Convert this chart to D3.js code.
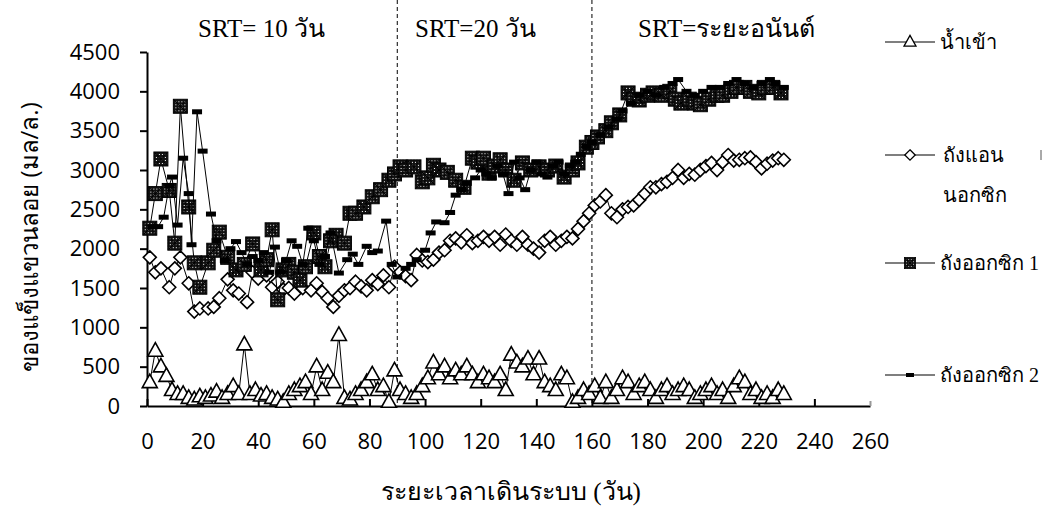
<!DOCTYPE html>
<html>
<head>
<meta charset="utf-8">
<script src="https://cdn.jsdelivr.net/npm/d3@7"></script>
<style>
  body { margin: 0; background: #fff; }
  svg { display: block; }
</style>
</head>
<body>
<div id="chart"></div>
<script>
// --- data (days, mg/L) ---
const inflowDays = d3.range(1, 230, 2);
const inflowVals = [300,700,500,380,200,150,150,100,80,120,100,130,180,100,150,250,150,780,150,200,
  130,150,100,80,50,150,200,250,300,150,500,200,420,300,900,100,80,150,200,300,
  400,200,250,50,450,200,150,100,150,250,350,550,400,500,350,450,400,500,400,300,
  400,350,300,400,200,650,550,500,600,400,600,300,250,200,400,350,50,100,200,150,
  250,100,300,100,200,350,300,150,250,300,200,100,200,250,150,200,250,200,100,150,
  200,250,150,200,100,250,350,300,150,200,100,150,100,200,150];

const anoxicDays = [1,3,5,8,10,12,15,17,19,22,24,26,29,31,33,36,38,40,43,45,47,49,51,53,56,59,
  61,63,65,67,69,71,73,75,77,79,81,83,85,87,89,91,93,95,97,99,101,103,105,107,109,111,113,115,117,119,
  121,123,125,127,129,131,133,135,137,139,141,143,145,147,149,151,153,155,157,159,161,163,165,167,169,171,
  173,175,177,179,181,183,185,187,189,191,193,195,197,199,201,203,205,207,209,211,213,215,217,219,221,223,
  225,227,229];
const anoxicVals = [1890,1700,1750,1510,1750,1890,1560,1200,1240,1240,1260,1370,1610,1470,1430,1320,1700,1620,1660,1510,
  1580,1480,1500,1430,1500,1470,1560,1450,1370,1260,1400,1470,1500,1580,1520,1470,1600,1550,1660,1510,
  1770,1700,1650,1600,1920,1850,1830,1860,1950,1980,2100,2130,2080,2170,2070,2100,2150,2100,2150,2050,
  2180,2100,2050,2150,2050,2000,1950,2100,2150,2050,2100,2150,2130,2250,2350,2450,2550,2600,2680,2450,
  2400,2500,2530,2550,2620,2700,2780,2780,2820,2850,2900,3000,2900,2950,2940,3000,3050,3090,3000,3100,
  3190,3120,3130,3150,3160,3100,3020,3080,3120,3150,3130];

const oxic1Days = [1,3,5,8,10,12,15,17,19,22,24,26,29,32,35,38,41,43,45,47,49,51,53,55,57,60,62,64,66,68,
  71,73,75,78,81,84,87,89,91,93,96,99,101,103,105,108,111,114,117,119,121,123,125,127,129,132,135,138,141,144,
  147,150,153,155,158,160,162,165,167,170,173,175,177,180,182,185,188,190,192,195,197,199,202,205,207,210,212,215,217,220,
  222,225,228];
const oxic1Vals = [2260,2700,3140,2740,2070,3810,2530,1820,1510,1820,1980,2210,1890,1730,1800,2060,1730,1860,2240,1350,
  1730,1800,1700,1600,1770,2200,1900,1770,2100,2170,2070,2450,2450,2530,2660,2750,2870,2950,3040,3000,
  3040,2850,2900,3060,3000,2970,2870,2780,3150,3100,3150,2960,3050,3130,3000,2870,3090,3000,3040,3000,
  3050,2910,3000,3090,3290,3350,3420,3500,3600,3700,3980,3900,3890,3950,3980,3950,4000,3900,3850,3900,
  3850,3830,3900,3950,3950,4000,4050,4050,4000,3980,4050,4050,3980];

const oxic2Days = [2,4,6,8,9,11,13,15,16,18,20,23,25,28,30,32,34,36,38,40,42,44,46,48,50,52,54,56,58,60,
  62,64,66,69,72,74,76,79,81,83,86,88,90,93,95,97,100,102,104,107,109,111,113,115,118,120,122,124,126,128,
  130,132,134,136,138,140,142,144,146,148,150,152,154,156,158,160,163,166,169,171,174,177,180,183,186,189,191,194,197,200,
  203,206,209,212,215,218,221,224,226,229];
const oxic2Vals = [2280,2280,2400,2800,2910,2300,3150,2700,2050,3740,3240,2440,2100,1850,2000,2090,1950,1800,1900,1850,
  1950,1700,2020,1700,1850,2100,2030,1800,2260,2100,1800,1900,2200,1690,1860,1930,1800,2030,1950,1970,
  2350,1800,1640,1750,1800,1860,1980,2200,2340,2330,2460,2680,2750,2830,2900,3000,2950,2900,3050,2950,
  2700,3100,2900,2750,3000,3100,2950,2910,3050,3100,2950,3050,3100,3200,3300,3350,3450,3550,3650,3750,
  3850,3950,4000,3950,4050,4100,4150,4000,3950,4000,4050,4050,4100,4150,4100,4050,4100,4150,4100,4050];

const seriesNames = ["น้ำเข้า", "ถังแอนนอกซิก", "ถังออกซิก 1", "ถังออกซิก 2"];
const xTicks = d3.range(0, 261, 20);
const yTicks = d3.range(0, 4501, 500);
const phaseBreaks = [90, 160];
const phaseLabels = ["SRT= 10 วัน", "SRT=20 วัน", "SRT=ระยะอนันต์"];
const phaseLabelX = [198, 415, 638];

const width = 1045, height = 513;
const svg = d3.select("#chart").append("svg")
  .attr("width", width).attr("height", height);

const defs = svg.append("defs");
const pat = defs.append("pattern").attr("id", "hatch")
  .attr("patternUnits", "userSpaceOnUse").attr("width", 3).attr("height", 3);
pat.append("rect").attr("width", 3).attr("height", 3).attr("fill", "#111");
pat.append("rect").attr("x", 1).attr("y", 1).attr("width", 1).attr("height", 1).attr("fill", "#fff");

const x = d3.scaleLinear().domain([0, 260]).range([147, 870]);
const y = d3.scaleLinear().domain([0, 4500]).range([406, 52]);

const tickFont = "'Open Sans', 'Noto Sans', sans-serif";
const serif = "'Liberation Serif', 'Times New Roman', serif";

// phase separators
svg.selectAll(".phase")
  .data(phaseBreaks)
  .enter().append("line")
  .attr("x1", d => x(d)).attr("x2", d => x(d))
  .attr("y1", 0).attr("y2", y(0))
  .attr("stroke", "#000").attr("stroke-width", 1)
  .attr("stroke-dasharray", "4,3");

svg.selectAll(".phase-label")
  .data(phaseLabels)
  .enter().append("text")
  .attr("x", (d, i) => phaseLabelX[i]).attr("y", 37)
  .style("font-family", serif).style("font-size", "25px")
  .text(d => d);

// axes
const yAxis = svg.append("g")
  .attr("transform", "translate(" + x(0) + ",0)")
  .call(d3.axisLeft(y).tickValues(yTicks).tickFormat(d3.format("d"))
    .tickSize(7).tickSizeOuter(0).tickPadding(20));
yAxis.select(".domain").attr("stroke-width", 2);
yAxis.selectAll(".tick line").attr("stroke-width", 2);
yAxis.selectAll("text").style("font-family", tickFont).style("font-size", "22px").attr("fill", "#000");

const xAxis = svg.append("g")
  .attr("transform", "translate(0," + y(0) + ")")
  .call(d3.axisBottom(x).tickValues(xTicks).tickFormat(d3.format("d"))
    .tickSizeInner(-7).tickSizeOuter(0).tickPadding(27));
xAxis.select(".domain").attr("stroke-width", 2);
xAxis.selectAll(".tick line").attr("stroke-width", 2)
  .attr("stroke", d => d === 260 ? "#999" : "#000")
  .attr("y2", d => d === 260 ? -5 : -7);
xAxis.selectAll("text").style("font-family", tickFont).style("font-size", "22px").attr("fill", "#000");

// markers
function triPath(s) { return "M0," + (-s * 0.55) + "L" + (s * 0.5) + "," + (s * 0.35) + "L" + (-s * 0.5) + "," + (s * 0.35) + "Z"; }
function diaPath(s) { return "M0," + (-s / 2) + "L" + (s / 2) + ",0L0," + (s / 2) + "L" + (-s / 2) + ",0Z"; }

function drawMarker(g, kind) {
  if (kind === 0) {
    g.append("path").attr("d", triPath(15)).attr("fill", "#fff").attr("stroke", "#000").attr("stroke-width", 1.6);
  } else if (kind === 1) {
    g.append("path").attr("d", diaPath(13)).attr("fill", "#fff").attr("stroke", "#000").attr("stroke-width", 1.6);
  } else if (kind === 2) {
    g.append("rect").attr("x", -7).attr("y", -7).attr("width", 14).attr("height", 14)
      .attr("fill", "url(#hatch)").attr("stroke", "#000").attr("stroke-width", 1);
    g.append("path").attr("d", "M-6,-6L6,6M6,-6L-6,6").attr("stroke", "#000").attr("stroke-width", 1);
  } else {
    g.append("rect").attr("x", -5).attr("y", -2.5).attr("width", 10).attr("height", 5).attr("fill", "#000");
  }
}

const series = [
  { days: inflowDays, vals: inflowVals },
  { days: anoxicDays, vals: anoxicVals },
  { days: oxic1Days, vals: oxic1Vals },
  { days: oxic2Days, vals: oxic2Vals }
];

const line = d3.line()
  .x(d => x(d[0]))
  .y(d => y(d[1]));

series.forEach((s, k) => {
  const pts = s.days.map((d, i) => [d, s.vals[i]]);
  svg.append("path")
    .attr("d", line(pts))
    .attr("fill", "none")
    .attr("stroke", "#000")
    .attr("stroke-width", 1);
  svg.selectAll(".m" + k)
    .data(pts)
    .enter().append("g")
    .attr("class", "m" + k)
    .attr("transform", d => "translate(" + x(d[0]) + "," + y(d[1]) + ")")
    .each(function () { drawMarker(d3.select(this), k); });
});

// legend
const legendY = [42, 155, 263, 375];
seriesNames.forEach((name, k) => {
  const g = svg.append("g").attr("transform", "translate(885," + legendY[k] + ")");
  g.append("line").attr("x1", 0).attr("x2", 50).attr("stroke", "#000").attr("stroke-width", 1.2);
  const m = g.append("g").attr("transform", "translate(25,0) scale(0.8)");
  drawMarker(m, k);
  if (k === 1) {
    g.append("text").attr("x", 58).attr("y", 7).style("font-family", serif).style("font-size", "20px").text("ถังแอน");
    g.append("text").attr("x", 58).attr("y", 47).style("font-family", serif).style("font-size", "20px").text("นอกซิก");
  } else {
    g.append("text").attr("x", 55).attr("y", 7).style("font-family", serif).style("font-size", "20px").text(name);
  }
});
svg.append("line").attr("x1", 1041).attr("x2", 1041).attr("y1", 150).attr("y2", 160)
  .attr("stroke", "#555").attr("stroke-width", 1);

// axis titles
svg.append("text")
  .attr("transform", "translate(38,237) rotate(-90)")
  .attr("text-anchor", "middle")
  .style("font-family", tickFont).style("font-size", "24px")
  .text("ของแข็งแขวนลอย (มล/ล.)");

svg.append("text")
  .attr("x", 511).attr("y", 500)
  .attr("text-anchor", "middle")
  .style("font-family", serif).style("font-size", "25px")
  .text("ระยะเวลาเดินระบบ (วัน)");
</script>
</body>
</html>
